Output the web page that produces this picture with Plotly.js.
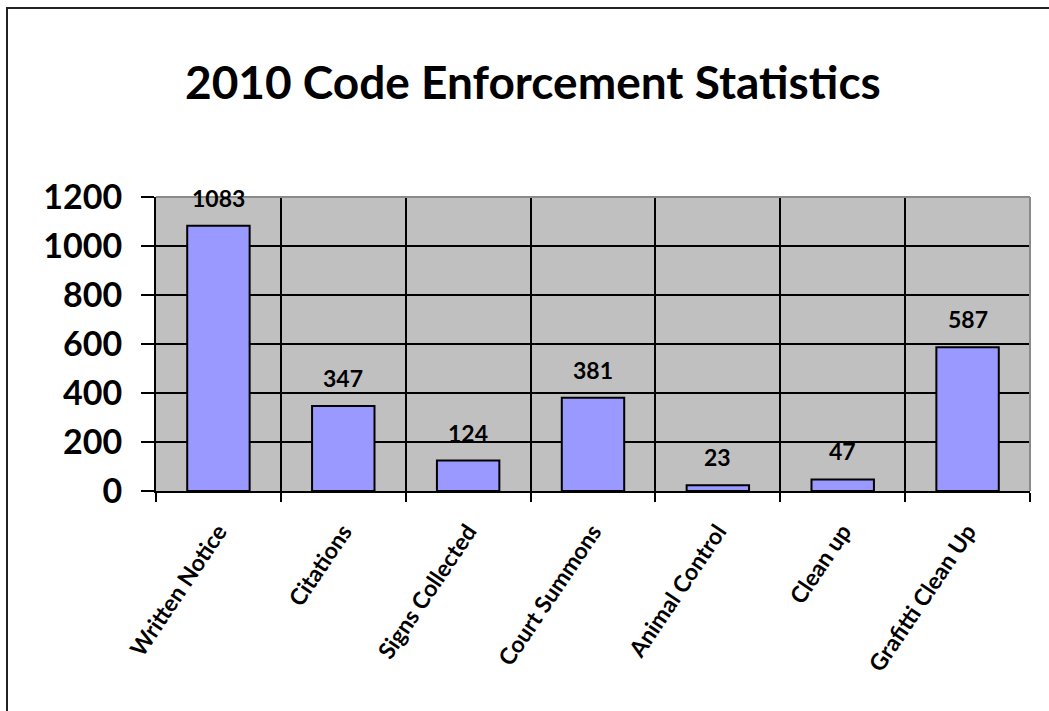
<!DOCTYPE html>
<html>
<head>
<meta charset="utf-8">
<script src="https://cdn.plot.ly/plotly-3.0.1.min.js"></script>
<style>
  html, body { margin: 0; padding: 0; background: #fff; overflow: hidden; }
  #chart { position: absolute; left: 0; top: 0; width: 1049px; height: 711px; }
  #frame { position: absolute; left: 6px; top: 7px; width: 1100px; height: 800px;
           border-left: 2px solid #222; border-top: 2px solid #222; pointer-events: none; }
</style>
</head>
<body>
<div id="chart"></div>
<div id="frame"></div>
<script>
const categories = ["Written Notice", "Citations", "Signs Collected", "Court Summons", "Animal Control", "Clean up", "Grafitti Clean Up"];
const values = [1083, 347, 124, 381, 23, 47, 587];
const yTicks = [0, 200, 400, 600, 800, 1000, 1200];
const chartTitle = "2010 Code Enforcement Statistics";

const FONT = "Lato, 'Open Sans', sans-serif";

const trace = {
  type: "bar",
  x: categories,
  y: values,
  width: 0.5,
  marker: { color: "#9999FF", line: { color: "#000000", width: 2 } },
  hoverinfo: "x+y"
};

const annotations = categories.map((c, i) => ({
  x: c, y: values[i], xref: "x", yref: "y",
  text: String(values[i]), showarrow: false,
  yanchor: "middle", yshift: 28,
  font: { family: FONT, size: 23, color: "#000", weight: 700 }
}));

const layout = {
  width: 1049, height: 711,
  margin: { l: 156, r: 19, t: 197, b: 220 },
  paper_bgcolor: "#ffffff",
  plot_bgcolor: "#C0C0C0",
  showlegend: false,
  title: {
    text: chartTitle,
    x: 0.508, xanchor: "center",
    y: 0.883, yanchor: "middle",
    font: { family: FONT, size: 46, color: "#000", weight: 700 }
  },
  xaxis: {
    type: "category",
    tickson: "boundaries",
    ticks: "outside", ticklen: 9, tickwidth: 2, tickcolor: "#000",
    showgrid: true, gridcolor: "#000", gridwidth: 2,
    showline: true, linecolor: "#000", linewidth: 2,
    tickangle: -56,
    ticklabelstandoff: 16,
    tickfont: { family: FONT, size: 23, color: "#000", weight: 700 }
  },
  yaxis: {
    range: [0, 1200],
    tickvals: yTicks,
    ticktext: yTicks.map(String),
    ticks: "outside", ticklen: 13, tickwidth: 2, tickcolor: "#000",
    showgrid: true, gridcolor: "#000", gridwidth: 2,
    zeroline: false,
    showline: true, linecolor: "#000", linewidth: 2,
    ticklabelstandoff: 12,
    tickfont: { family: FONT, size: 34, color: "#000", weight: 700 }
  },
  shapes: [
    { type: "line", xref: "paper", yref: "paper", x0: 0, x1: 1, y0: 1, y1: 1,
      line: { color: "#8a8a8a", width: 2 }, layer: "above" },
    { type: "line", xref: "paper", yref: "paper", x0: 1, x1: 1, y0: 0, y1: 1,
      line: { color: "#8a8a8a", width: 2 }, layer: "above" }
  ],
  annotations: annotations,
  bargap: 0.5
};

Plotly.newPlot("chart", [trace], layout, { displayModeBar: false, staticPlot: true });
</script>
</body>
</html>
